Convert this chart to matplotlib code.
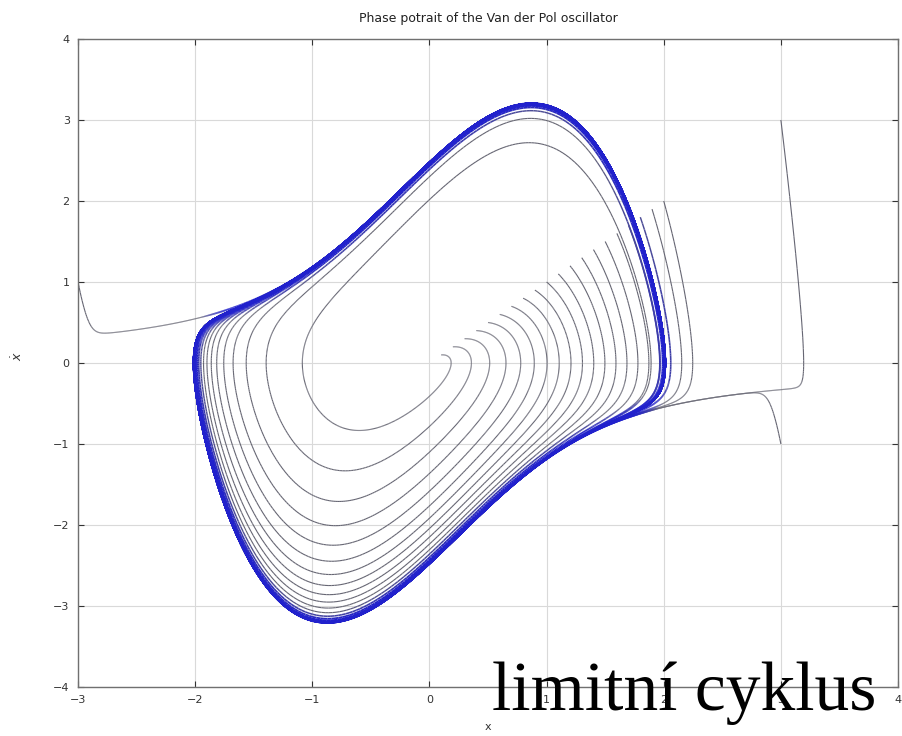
import numpy as np
import matplotlib
matplotlib.use('Agg')
import matplotlib.pyplot as plt
from matplotlib.collections import LineCollection

# Van der Pol: x' = y, y' = mu*(1-x^2)*y - w2*x
mu = 1.35
w2 = 1.2
t_end = 20.0

# starting points
x0_inner = [0.1, 0.2, 0.3, 0.4, 0.5, 0.6, 0.7, 0.8, 0.9, 1.0,
            1.1, 1.2, 1.3, 1.4, 1.5, 1.6, 1.7, 1.8, 1.9, 2.0]
y0_inner = [0.1, 0.2, 0.3, 0.4, 0.5, 0.6, 0.7, 0.8, 0.9, 1.0,
            1.1, 1.2, 1.3, 1.4, 1.5, 1.6, 1.7, 1.8, 1.9, 2.0]
x0_outer = [-3.0, 3.0, 3.0]
y0_outer = [1.0, 3.0, -1.0]

xticks = [-3, -2, -1, 0, 1, 2, 3, 4]
yticks = [-4, -3, -2, -1, 0, 1, 2, 3, 4]


def rhs(x, y):
    return y, mu * (1 - x**2) * y - w2 * x


def integrate(x, y, T, dt=0.005):
    x = np.array(x, float)
    y = np.array(y, float)
    n = int(T / dt)
    X = np.empty((n + 1, x.size))
    Y = np.empty((n + 1, x.size))
    X[0], Y[0] = x, y
    for i in range(n):
        k1x, k1y = rhs(x, y)
        k2x, k2y = rhs(x + dt/2*k1x, y + dt/2*k1y)
        k3x, k3y = rhs(x + dt/2*k2x, y + dt/2*k2y)
        k4x, k4y = rhs(x + dt*k3x, y + dt*k3y)
        x = x + dt/6*(k1x + 2*k2x + 2*k3x + k4x)
        y = y + dt/6*(k1y + 2*k2y + 2*k3y + k4y)
        X[i+1], Y[i+1] = x, y
    return X, Y


X, Y = integrate(x0_inner + x0_outer, y0_inner + y0_outer, t_end)

# the limit cycle itself, used only to shade lines near it blue
CX, CY = integrate([2.0], [0.0], 40.0)
cx, cy = CX[-2000::2, 0], CY[-2000::2, 0]

# pixel-ish scale of the axes so distance is measured as on screen
sx, sy = 118.0, 81.0
gray = np.array([0.40, 0.40, 0.45])
blue = np.array([0.13, 0.13, 0.80])

fig = plt.figure(figsize=(9.02, 7.36), dpi=100)
ax = fig.add_axes([0.0865, 0.0666, 0.9091, 0.8804])

for j in range(X.shape[1]):
    px, py = X[::2, j], Y[::2, j]
    d = np.sqrt(((px[:, None] - cx[None, :]) * sx)**2 +
                ((py[:, None] - cy[None, :]) * sy)**2).min(axis=1)
    w = np.clip(1.4 - d / 7.0, 0, 1)
    cols = gray[None, :] * (1 - w[:, None]) + blue[None, :] * w[:, None]
    pts = np.column_stack([px, py]).reshape(-1, 1, 2)
    segs = np.concatenate([pts[:-1], pts[1:]], axis=1)
    lc = LineCollection(segs, colors=cols[:-1], linewidths=0.8 + 0.6 * w[:-1])
    ax.add_collection(lc)

ax.set_xlim(-3, 4)
ax.set_ylim(-4, 4)
ax.set_xticks(xticks)
ax.set_yticks(yticks)
ax.set_xticklabels([str(v).replace('-', '\u2212') for v in xticks])
ax.set_yticklabels([str(v).replace('-', '\u2212') for v in yticks])
ax.grid(True, color='#d9d9d9', lw=0.8)
ax.set_axisbelow(True)
ax.tick_params(direction='in', top=True, right=True, length=4,
               labelsize=8, colors='#333333', pad=6)
for s in ax.spines.values():
    s.set_color('#707070')
    s.set_linewidth(1.0)

ax.set_title('Phase potrait of the Van der Pol oscillator', fontsize=9,
             color='#222222', pad=12)
ax.set_xlabel('x', fontsize=8, color='#333333')
ax.xaxis.set_label_coords(0.5, -0.054)
ax.set_ylabel(r'$\dot{x}$', fontsize=9, color='#333333')
ax.yaxis.set_label_coords(-0.065, 0.51)

fig.text(0.545, 0.035, 'limitní cyklus', fontsize=50,
         family=['Liberation Serif', 'DejaVu Serif'], va='baseline', ha='left')

fig.savefig('out.png', dpi=100)
